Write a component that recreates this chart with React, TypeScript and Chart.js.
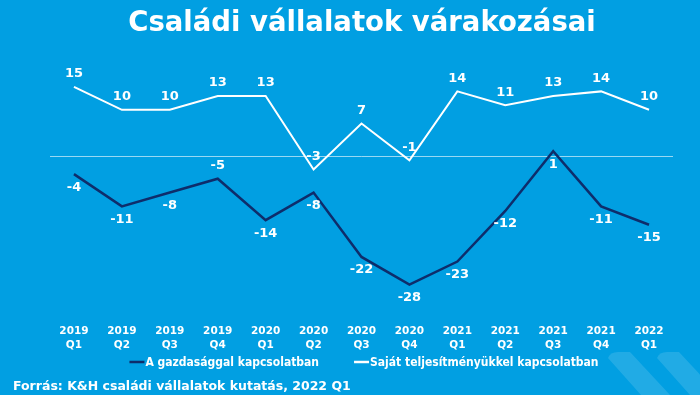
import React, { useEffect, useRef } from "react";
import { Chart, registerables } from "chart.js";

Chart.register(...registerables);

const title = "Családi vállalatok várakozásai";
const source = "Forrás: K&H családi vállalatok kutatás, 2022 Q1";
const categories: string[][] = [
  ["2019", "Q1"], ["2019", "Q2"], ["2019", "Q3"], ["2019", "Q4"],
  ["2020", "Q1"], ["2020", "Q2"], ["2020", "Q3"], ["2020", "Q4"],
  ["2021", "Q1"], ["2021", "Q2"], ["2021", "Q3"], ["2021", "Q4"],
  ["2022", "Q1"],
];
const seriesNames = ["A gazdasággal kapcsolatban", "Saját teljesítményükkel kapcsolatban"];
const economy = [-4, -11, -8, -5, -14, -8, -22, -28, -23, -12, 1, -11, -15];
const ownPerformance = [15, 10, 10, 13, 13, -3, 7, -1, 14, 11, 13, 14, 10];
// label placement: 1 = below the point, -1 = above
const economyLabelSide = [1, 1, 1, -1, 1, 1, 1, 1, 1, 1, 1, 1, 1];
const ownLabelSide = [-1, -1, -1, -1, -1, -1, -1, -1, -1, -1, -1, -1, -1];

const BG = "#019FE2";
const NAVY = "#0E2D6B";
const WHITE = "#FFFFFF";
const FONT = "'DejaVu Sans', Verdana, sans-serif";
const FONT_C = "'DejaVu Sans Condensed', 'DejaVu Sans', sans-serif";

const decorPlugin = {
  id: "decor",
  beforeDraw(chart: any) {
    const ctx = chart.ctx;
    ctx.save();
    ctx.fillStyle = BG;
    ctx.fillRect(0, 0, chart.width, chart.height);
    ctx.fillStyle = "rgba(255,255,255,0.13)";
    const bands = [608, 657];
    bands.forEach((x0) => {
      ctx.beginPath();
      ctx.moveTo(x0, 358);
      ctx.quadraticCurveTo(x0 + 2, 352, x0 + 10, 352);
      ctx.lineTo(x0 + 22, 352);
      ctx.lineTo(x0 + 62, 395);
      ctx.lineTo(x0 + 33, 395);
      ctx.closePath();
      ctx.fill();
    });
    // title
    ctx.fillStyle = WHITE;
    ctx.font = `bold 27.5px ${FONT}`;
    ctx.textAlign = "center";
    ctx.textBaseline = "middle";
    ctx.fillText(title, 362, 24);
    ctx.restore();
  },
  beforeDatasetsDraw(chart: any) {
    const ctx = chart.ctx;
    const y = chart.scales.y.getPixelForValue(0);
    ctx.save();
    ctx.strokeStyle = "rgba(255,255,255,0.6)";
    ctx.lineWidth = 1;
    ctx.beginPath();
    ctx.moveTo(chart.chartArea.left, Math.round(y) + 0.5);
    ctx.lineTo(chart.chartArea.right, Math.round(y) + 0.5);
    ctx.stroke();
    ctx.restore();
  },
  afterDraw(chart: any) {
    const ctx = chart.ctx;
    ctx.save();
    // data labels
    ctx.fillStyle = WHITE;
    ctx.font = `bold 13px ${FONT}`;
    ctx.textAlign = "center";
    ctx.textBaseline = "middle";
    const sides = [economyLabelSide, ownLabelSide];
    chart.data.datasets.forEach((ds: any, di: number) => {
      const meta = chart.getDatasetMeta(di);
      meta.data.forEach((pt: any, i: number) => {
        const side = sides[di][i];
        ctx.fillText(String(ds.data[i]), pt.x, pt.y + side * 13);
      });
    });
    // legend
    ctx.font = `bold 12px ${FONT_C}`;
    ctx.textAlign = "left";
    const colors = [NAVY, WHITE];
    const markerW = 15;
    const gap = 1;
    const itemGap = 35;
    const widths = seriesNames.map((n) => markerW + gap + ctx.measureText(n).width);
    const total = widths[0] + widths[1] + itemGap;
    const cx = 364;
    let x = cx - total / 2;
    const ly = 362;
    seriesNames.forEach((n, i) => {
      ctx.strokeStyle = colors[i];
      ctx.lineWidth = 2.5;
      ctx.beginPath();
      ctx.moveTo(x, ly);
      ctx.lineTo(x + markerW, ly);
      ctx.stroke();
      ctx.fillStyle = WHITE;
      ctx.fillText(n, x + markerW + gap, ly + 1);
      x += widths[i] + itemGap;
    });
    // source
    ctx.font = `bold 12.5px ${FONT}`;
    ctx.fillText(source, 13, 387);
    ctx.restore();
  },
};

export default function App() {
  const ref = useRef<HTMLCanvasElement | null>(null);
  useEffect(() => {
    document.body.style.margin = "0";
    const chart = new Chart(ref.current as HTMLCanvasElement, {
      type: "line",
      data: {
        labels: categories,
        datasets: [
          {
            label: seriesNames[0],
            data: economy,
            borderColor: NAVY,
            borderWidth: 2.5,
            pointRadius: 0,
            tension: 0,
          },
          {
            label: seriesNames[1],
            data: ownPerformance,
            borderColor: WHITE,
            borderWidth: 2,
            pointRadius: 0,
            tension: 0,
          },
        ],
      },
      options: {
        responsive: false,
        animation: false,
        layout: { padding: { left: 50, right: 27, top: 50, bottom: 43 } },
        plugins: {
          legend: { display: false },
          title: { display: false },
          tooltip: { enabled: false },
        },
        scales: {
          x: {
            offset: true,
            grid: { display: false },
            border: { display: false },
            ticks: {
              color: WHITE,
              font: { family: FONT, weight: "bold", size: 10.5, lineHeight: 1.3 },
              padding: 0,
              maxRotation: 0,
              autoSkip: false,
            },
          },
          y: {
            display: false,
            min: -35,
            max: 23,
          },
        },
      },
      plugins: [decorPlugin],
    });
    return () => chart.destroy();
  }, []);
  return (
    <div style={{ position: "fixed", left: 0, top: 0, width: 700, height: 395 }}>
      <canvas ref={ref} width={700} height={395} />
    </div>
  );
}
